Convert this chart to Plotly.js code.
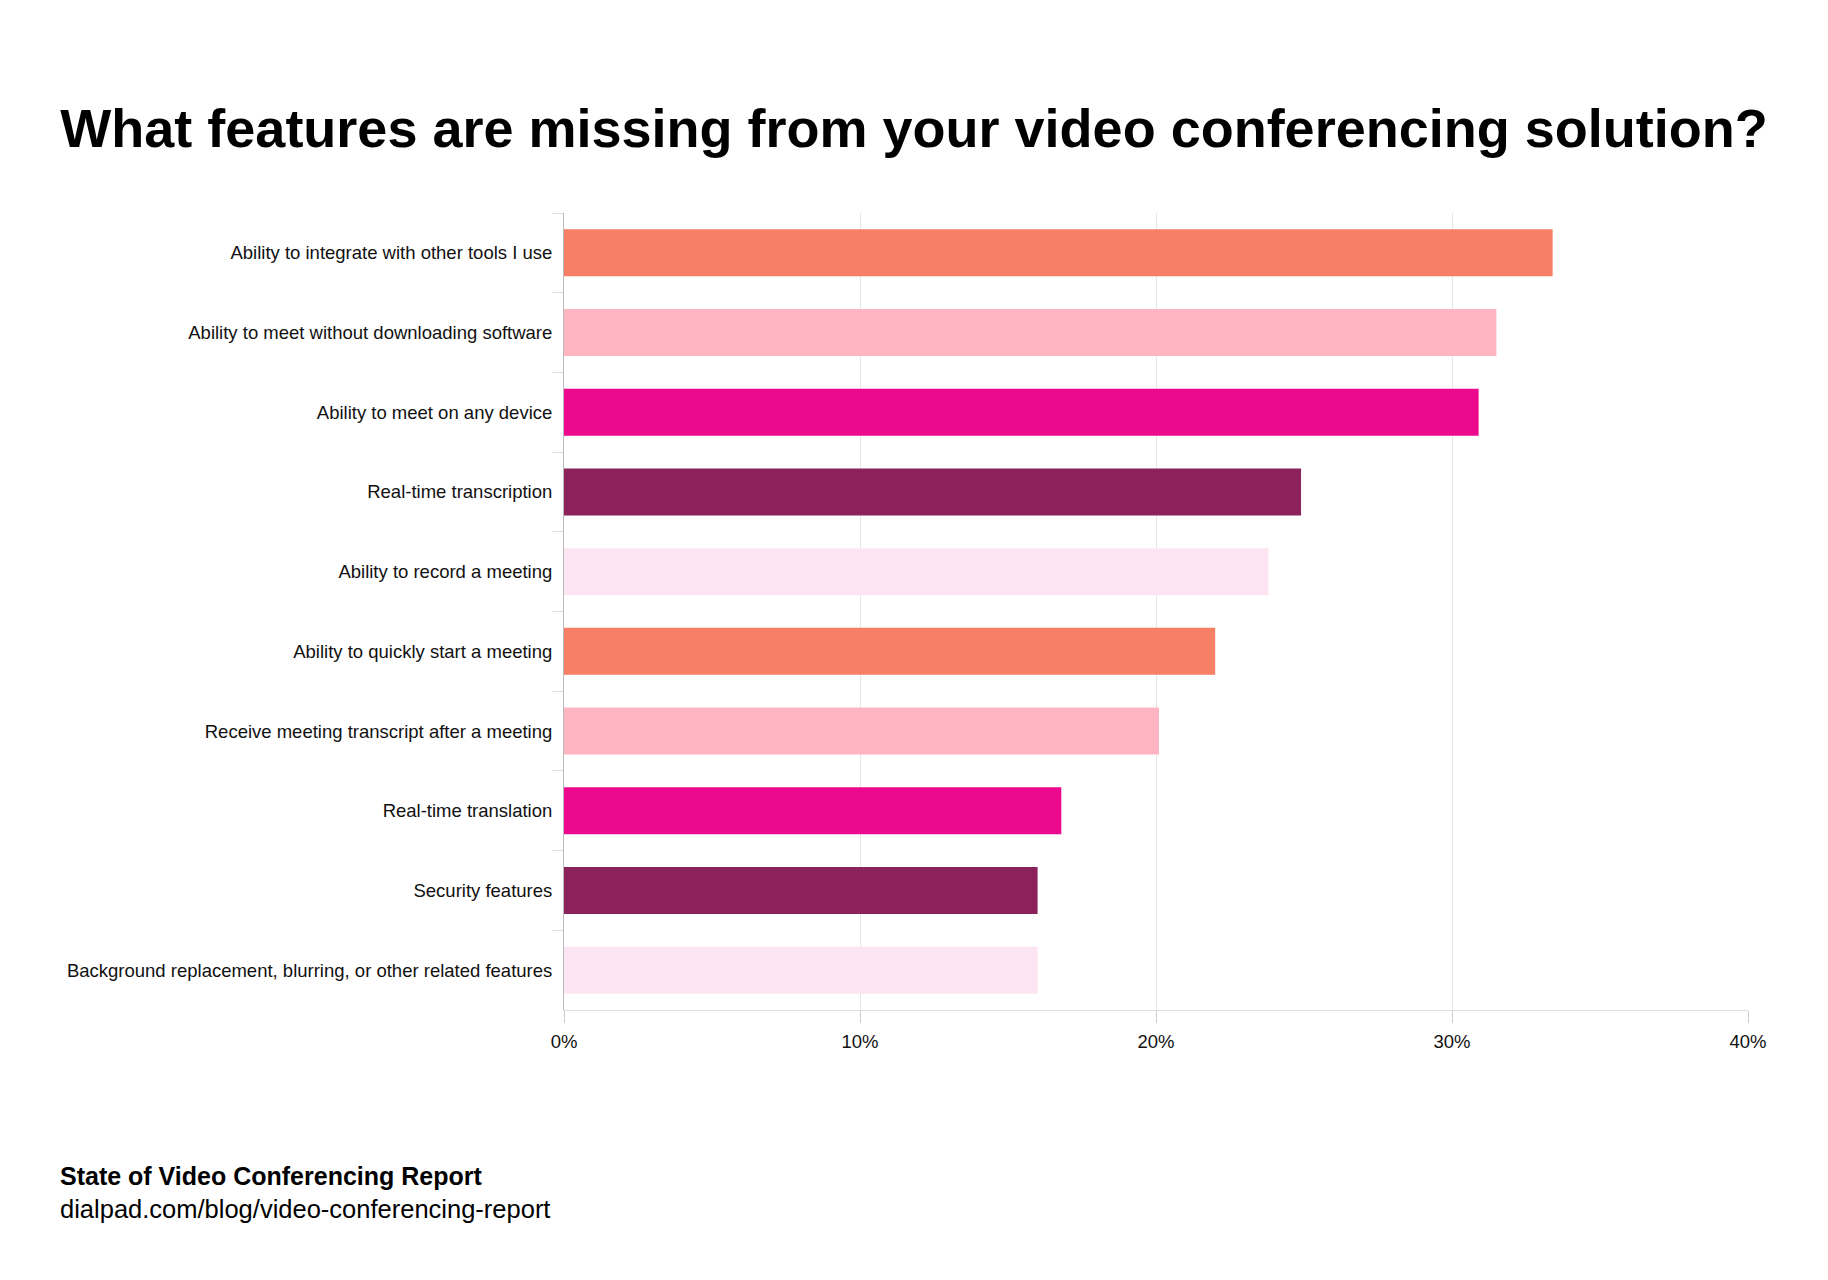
<!DOCTYPE html>
<html>
<head>
<meta charset="utf-8">
<script src="https://cdn.plot.ly/plotly-3.0.1.min.js"></script>
<style>
html,body{margin:0;padding:0;background:#fff;}
#chart{width:1828px;height:1280px;}
</style>
</head>
<body>
<div id="chart"></div>
<script>
const categories = [
  "Ability to integrate with other tools I use",
  "Ability to meet without downloading software",
  "Ability to meet on any device",
  "Real-time transcription",
  "Ability to record a meeting",
  "Ability to quickly start a meeting",
  "Receive meeting transcript after a meeting",
  "Real-time translation",
  "Security features",
  "Background replacement, blurring, or other related features"
];
const values = [33.4, 31.5, 30.9, 24.9, 23.8, 22.0, 20.1, 16.8, 16.0, 16.0];
const barColors = ["#F67F65", "#FFB5C1", "#EC098D", "#8B225B", "#FDE4F2",
                   "#F67F65", "#FFB5C1", "#EC098D", "#8B225B", "#FDE4F2"];
const tickValues = [0, 10, 20, 30, 40];
const tickLabels = ["0%", "10%", "20%", "30%", "40%"];
const titleText = "What features are missing from your video conferencing solution?";
const sourceTitle = "State of Video Conferencing Report";
const sourceUrl = "dialpad.com/blog/video-conferencing-report";

const trace = {
  type: "bar",
  orientation: "h",
  x: values,
  y: categories,
  marker: {color: barColors, line: {width: 0}},
  hoverinfo: "x+y"
};

const L = 564, R = 80, T = 213, B = 270;
const PW = 1828 - L - R, PH = 1280 - T - B;

const layout = {
  width: 1828,
  height: 1280,
  paper_bgcolor: "#ffffff",
  plot_bgcolor: "#ffffff",
  margin: {l: L, r: R, t: T, b: B},
  bargap: 0.41,
  showlegend: false,
  font: {family: "Liberation Sans, Arial, sans-serif", color: "#111111"},
  title: {
    text: "<b>" + titleText + "</b>",
    font: {family: "Liberation Sans, Arial, sans-serif", size: 54, color: "#000000"},
    x: 0.5, xanchor: "center",
    y: 1 - 128/1280, yanchor: "middle"
  },
  xaxis: {
    range: [0, 40],
    tickvals: tickValues,
    ticktext: tickLabels,
    showgrid: true,
    gridcolor: "#e6e6e6",
    gridwidth: 1,
    zeroline: false,
    showline: true,
    linecolor: "#dddddd",
    linewidth: 1,
    ticks: "outside",
    ticklen: 12,
    tickcolor: "#cccccc",
    ticklabelstandoff: 3,
    tickfont: {family: "Liberation Sans, Arial, sans-serif", size: 18.5, color: "#111111"},
    fixedrange: true
  },
  yaxis: {
    type: "category",
    autorange: "reversed",
    showgrid: false,
    zeroline: false,
    showline: true,
    linecolor: "#bbbbbb",
    linewidth: 1,
    ticks: "outside",
    tickson: "boundaries",
    ticklen: 11,
    tickcolor: "#dddddd",
    ticklabelstandoff: 7,
    tickfont: {family: "Liberation Sans, Arial, sans-serif", size: 18.5, color: "#111111"},
    fixedrange: true
  },
  annotations: [
    {
      text: "<b>" + sourceTitle + "</b>",
      xref: "paper", yref: "paper",
      x: (58 - L)/PW, y: -(1176 - (T + PH))/PH,
      xanchor: "left", yanchor: "middle",
      showarrow: false,
      font: {family: "Liberation Sans, Arial, sans-serif", size: 25, color: "#000000"}
    },
    {
      text: sourceUrl,
      xref: "paper", yref: "paper",
      x: (58 - L)/PW, y: -(1209 - (T + PH))/PH,
      xanchor: "left", yanchor: "middle",
      showarrow: false,
      font: {family: "Liberation Sans, Arial, sans-serif", size: 25.5, color: "#000000"}
    }
  ]
};

Plotly.newPlot("chart", [trace], layout, {displayModeBar: false, staticPlot: true});
</script>
</body>
</html>
